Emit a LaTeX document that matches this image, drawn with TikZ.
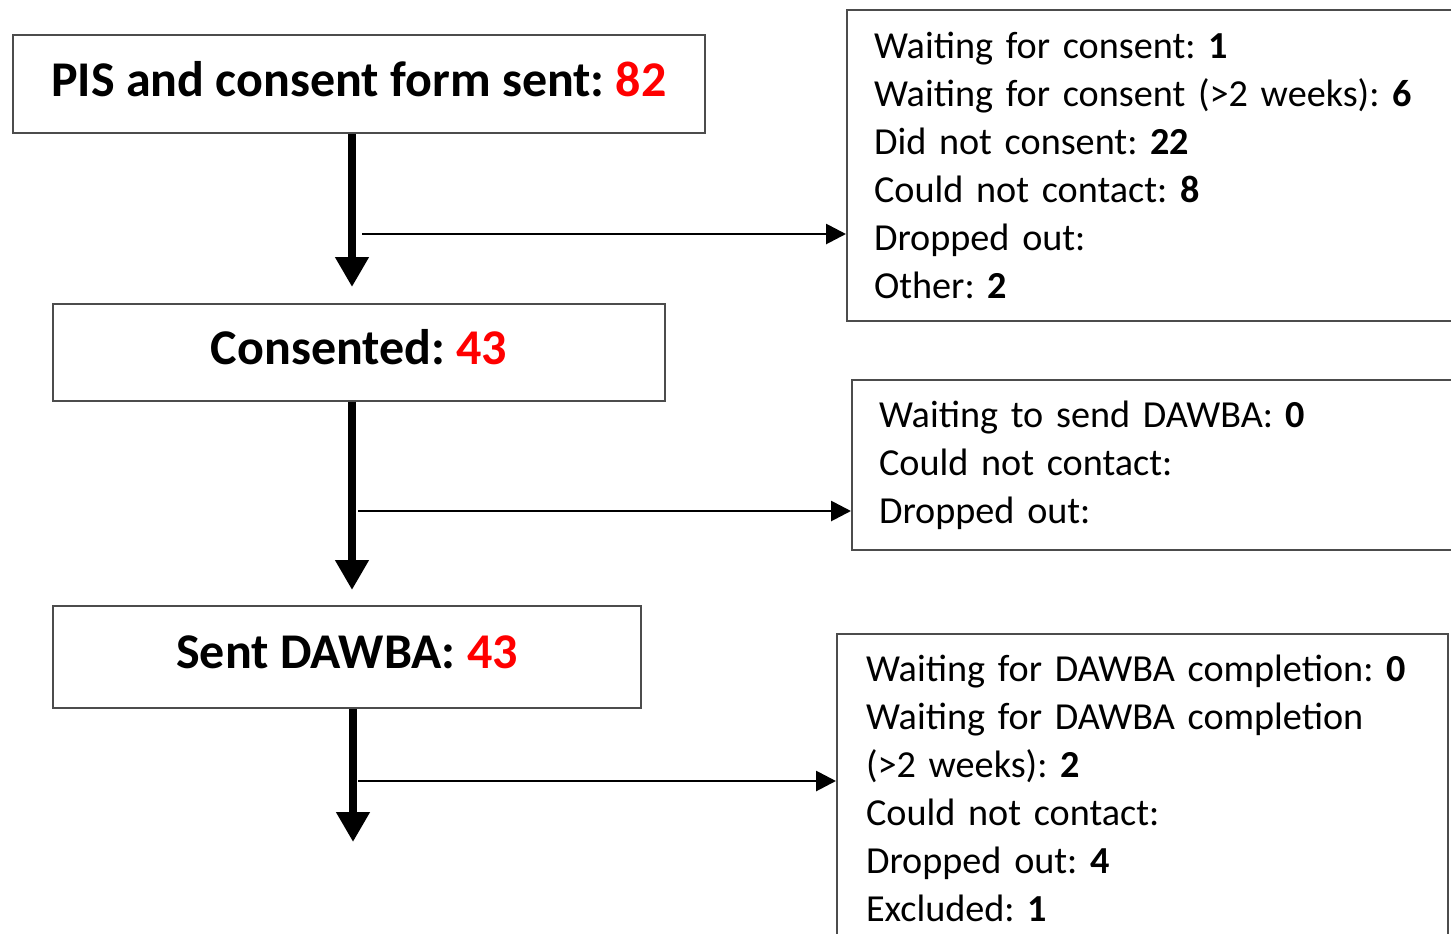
\documentclass[tikz,border=0pt]{standalone}
\usepackage{fontspec}
\setmainfont{Carlito}
\usetikzlibrary{arrows.meta,positioning}
\tikzset{
  mainbox/.style={draw=black!70,line width=1pt,inner sep=0pt,text depth=5pt,
    font=\fontsize{25}{30}\selectfont\bfseries},
  sidebox/.style={draw=black!70,line width=1pt,anchor=north west,align=left,
    inner ysep=0pt,font=\fontsize{19.1}{24}\selectfont},
  downarrow/.style={line width=4pt,-{Triangle[length=15pt,width=16pt]}},
  sidearrow/.style={line width=1.4pt,-{Triangle[length=10pt,width=10pt]}},
}
\newcommand{\num}[1]{\textcolor{red}{#1}}
\frenchspacing

\begin{document}
\begin{tikzpicture}[x=0.5pt,y=-0.5pt]
  \clip (0,0) rectangle (1451,933);
  \fill[white] (0,0) rectangle (1451,933);

  % main column
  \node[mainbox,minimum width=346pt,minimum height=49pt] (sent)      at (359,84)  {PIS and consent form sent: \num{82}};
  \node[mainbox,minimum width=306pt,minimum height=48.5pt] (consented) at (359,352) {Consented: \num{43}};
  \node[mainbox,minimum width=294pt,minimum height=51pt] (dawba)     at (347,657) {Sent DAWBA: \num{43}};

  % side boxes
  \node[sidebox,inner xsep=13.5pt,text width=283pt,minimum height=155.5pt] (out1) at (846,9)
    {Waiting for consent: \textbf{1}\\
     Waiting for consent (>2 weeks): \textbf{6}\\
     Did not consent: \textbf{22}\\
     Could not contact: \textbf{8}\\
     Dropped out:\\
     Other: \textbf{2}};
  \node[sidebox,inner xsep=13.5pt,text width=283pt,minimum height=85pt] (out2) at (851,379)
    {Waiting to send DAWBA: \textbf{0}\\
     Could not contact:\\
     Dropped out:};
  \node[sidebox,inner xsep=14.5pt,text width=276.5pt,minimum height=154pt] (out3) at (836,633)
    {\mbox{Waiting for DAWBA completion: \textbf{0}}\\
     Waiting for DAWBA completion\\
     (>2 weeks): \textbf{2}\\
     Could not contact:\\
     Dropped out: \textbf{4}\\
     Excluded: \textbf{1}};

  % arrow ends
  \coordinate (tip1) at (352,287);
  \coordinate (tip2) at (352,590);
  \coordinate (tip3) at (353,842);
  \coordinate (br1)  at (362,234);
  \coordinate (br2)  at (358,511);
  \coordinate (br3)  at (358,781);

  \draw[downarrow] (sent.south -| tip1) -- (tip1);
  \draw[downarrow] (consented.south -| tip2) -- (tip2);
  \draw[downarrow] (dawba.south -| tip3) -- (tip3);
  \draw[sidearrow] (br1) -- (br1 -| out1.west);
  \draw[sidearrow] (br2) -- (br2 -| out2.west);
  \draw[sidearrow] (br3) -- (br3 -| out3.west);
\end{tikzpicture}
\end{document}
